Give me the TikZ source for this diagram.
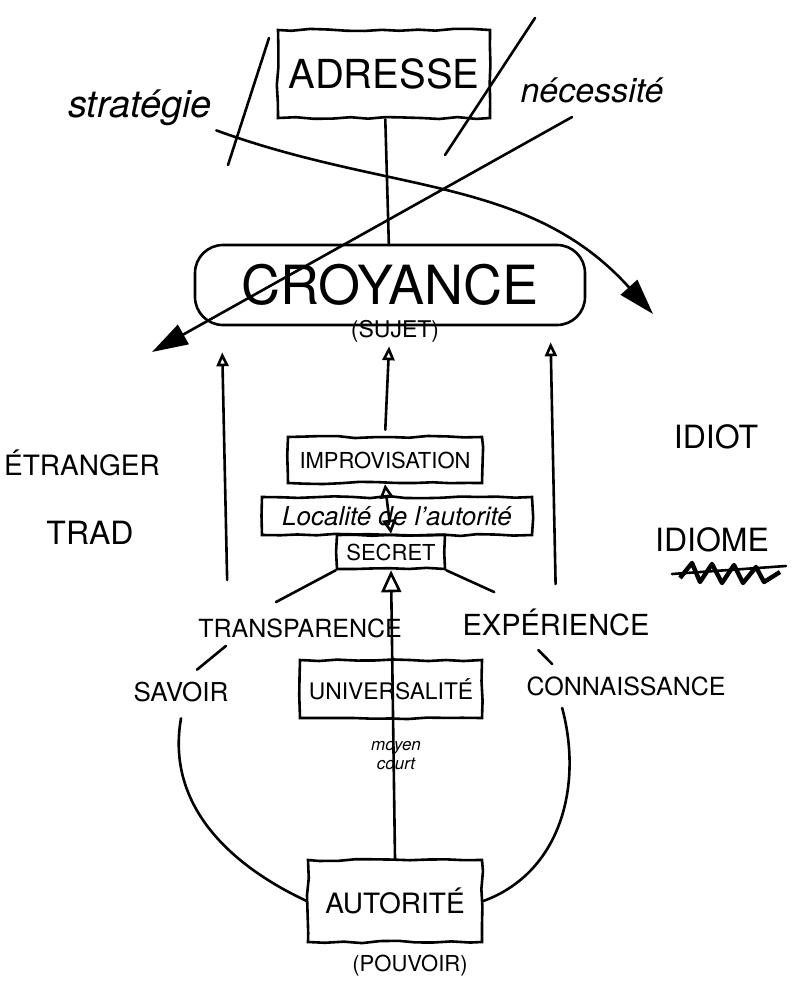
\documentclass[tikz,border=0pt]{standalone}
\usepackage{fontspec}
\setmainfont{TeX Gyre Heros}
\usetikzlibrary{arrows.meta,decorations.pathmorphing}
\tikzstyle{concept}=[draw, line width=1.3pt, inner sep=3pt, decorate, decoration={random steps, segment length=9pt, amplitude=0.6pt}]
\tikzstyle{cloudbox}=[draw, line width=1.3pt, rounded corners=14pt]
\tikzstyle{word}=[inner sep=2pt]
\tikzstyle{stroke}=[line width=1.3pt, line cap=round]
\tikzstyle{openarrow}=[-{Triangle[open, length=7pt, width=6pt]}]
\tikzstyle{bigarrow}=[-{Triangle[length=18pt, width=11pt]}]
\newcommand{\concept}{\node[concept]}
\newcommand{\word}{\node[word]}
\newcommand{\fs}[1]{\fontsize{#1}{#1}\selectfont}

\begin{document}
\begin{tikzpicture}[x=.5pt, y=-.5pt, every edge/.style={ draw, stroke } ]
\useasboundingbox (0,0) rectangle (804,1000);
% top
\concept (adresse) at (384,74) [minimum width=106pt, minimum height=44pt, font=\fs{20}] {ADRESSE};
\word (strat) at (140,108) [font=\fs{19}\itshape] {stratégie};
\word (nec) at (592,90) [font=\fs{17}\itshape] {nécessité};
\node[cloudbox] (croy) at (390,285) [minimum width=195pt, minimum height=40pt, font=\fs{27}] {CROYANCE};
\word (sujet) at (395,331) [font=\fs{11.5}] {(SUJET)};
\coordinate (leftend) at (152,352);
\coordinate (rightend) at (653,314);
% middle
\concept (impro) at (385,460) [minimum width=97pt, minimum height=23pt, font=\fs{11}] {IMPROVISATION};
\concept (localite) at (397,516) [minimum width=135pt, minimum height=19pt, font=\fs{13}\itshape] {Localité de l'autorité};
\concept (secret) at (391,552) [minimum width=54pt, minimum height=17pt, font=\fs{11}] {SECRET};
\word (trans) at (300,628) [font=\fs{12.5}] {TRANSPARENCE};
\word (expe) at (556,622) [font=\fs{14.5}] {EXPÉRIENCE};
\word (savoir) at (181,692) [font=\fs{13}] {SAVOIR};
\word (conn) at (626,686) [font=\fs{12.5}] {CONNAISSANCE};
\concept (univ) at (391,689) [minimum width=91pt, minimum height=29pt, font=\fs{11.4}] {UNIVERSALITÉ};
\word (moyen) at (396,756) [font=\fs{8.5}\itshape, align=center] {moyen\\[1pt]court};
% bottom
\concept (autorite) at (395,901) [minimum width=87pt, minimum height=41pt, font=\fs{14}] {AUTORITÉ};
\word (pouvoir) at (410,966) [font=\fs{11}] {(POUVOIR)};
% sides
\word (etranger) at (82,463) [font=\fs{14}] {ÉTRANGER};
\word (trad) at (90,533) [font=\fs{16}] {TRAD};
\word (idiot) at (716,437) [font=\fs{16}] {IDIOT};
\word (idiome) at (712,540) [font=\fs{16}] {IDIOME};
% crossings out
\draw[stroke] (228,165) -- (269,38);
\draw[stroke] (445,155) -- (535,18);
\draw[line width=2.2pt, line join=round] (680,578) -- (692,563) -- (700,582) -- (712,564) -- (722,583) -- (734,565) -- (743,583) -- (756,567) -- (764,582) -- (780,572);
\draw[stroke] (672,574) -- (786,566);
\path
(adresse) edge (croy)
(strat.south east) edge[bigarrow, out=-20, in=132] (rightend)
([xshift=-10pt,yshift=-5pt]nec.south) edge[bigarrow] (leftend)
([xshift=17pt]trans.north west) edge[openarrow, shorten <=17pt, shorten >=13pt] ([xshift=14pt]croy.south west)
(impro.north) edge[openarrow, shorten <=3pt, shorten >=10pt] (croy.south)
(expe.north) edge[openarrow, shorten <=10pt, shorten >=8pt] ([xshift=-18pt]croy.south east)
(impro.south) edge[{Triangle[open, length=7pt, width=7pt]}-{Triangle[open, length=7pt, width=7pt]}] (secret.north)
(autorite.north) edge[-{Triangle[open, length=11pt, width=10pt]}] (secret.south)
(secret.south west) edge ([xshift=-12pt,yshift=6pt]trans.north)
(secret.south east) edge ([xshift=18pt,yshift=6pt]expe.north west)
([xshift=16pt,yshift=-2pt]trans.south west) edge ([xshift=8pt,yshift=4pt]savoir.north)
([xshift=40pt,yshift=-5pt]expe.south west) edge ([xshift=15pt,yshift=4pt]conn.north west)
([yshift=-6pt]savoir.south) edge[out=-100, in=155] (autorite.west)
([xshift=20pt,yshift=-4pt]conn.south west) edge[out=-75, in=20] (autorite.east)
;
\end{tikzpicture}
\end{document}
